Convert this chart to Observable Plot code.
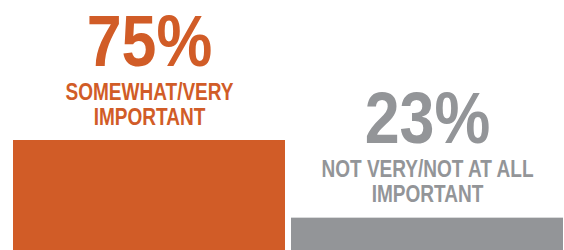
<!DOCTYPE html>
<html>
<head>
<meta charset="utf-8">
<script src="https://cdn.jsdelivr.net/npm/d3@7"></script>
<script src="https://cdn.jsdelivr.net/npm/@observablehq/plot@0.6"></script>
<style>
  html, body { margin: 0; padding: 0; background: #ffffff; }
  #chart svg { display: block; }
</style>
</head>
<body>
<div id="chart"></div>
<script>
const categories = ["SOMEWHAT/VERY\nIMPORTANT", "NOT VERY/NOT AT ALL\nIMPORTANT"];
const values = [75, 23];
const valueLabels = ["75%", "23%"];
const colors = ["#D15C27", "#939598"];

const data = categories.map((c, i) => ({
  category: c,
  value: values[i],
  label: valueLabels[i],
  color: colors[i]
}));

const font = "'Liberation Sans', Arial, sans-serif";

const chart = Plot.plot({
  width: 564,
  height: 250,
  margin: 0,
  style: { background: "#ffffff", fontFamily: font },
  x: { domain: categories, range: [13, 563], paddingInner: 0.0216, paddingOuter: 0, axis: null },
  y: { domain: [0, 75], range: [252, 140], axis: null },
  color: { type: "identity" },
  marks: [
    Plot.barY(data, { x: "category", y: "value", fill: "color" }),
    Plot.text(data, {
      x: "category", y: "value", text: "label", fill: "color",
      fontSize: 73, fontWeight: "bold", lineAnchor: "bottom", dy: -75,
      fontFamily: font
    }),
    Plot.text(data, {
      x: "category", y: "value", text: "category", fill: "color",
      fontSize: 23.5, fontWeight: "bold", lineAnchor: "bottom", lineHeight: 1.05, dy: -16,
      fontFamily: font
    })
  ]
});

// condense glyphs horizontally to mimic a condensed bold face
const groups = chart.querySelectorAll('g[aria-label="text"]');
const scales = [0.86, 0.81];
groups.forEach((g, gi) => {
  g.querySelectorAll("text").forEach(t => {
    const tr = t.getAttribute("transform") || "";
    t.setAttribute("transform", `${tr} scale(${scales[gi]},1)`);
  });
});

document.getElementById("chart").appendChild(chart);
</script>
</body>
</html>
